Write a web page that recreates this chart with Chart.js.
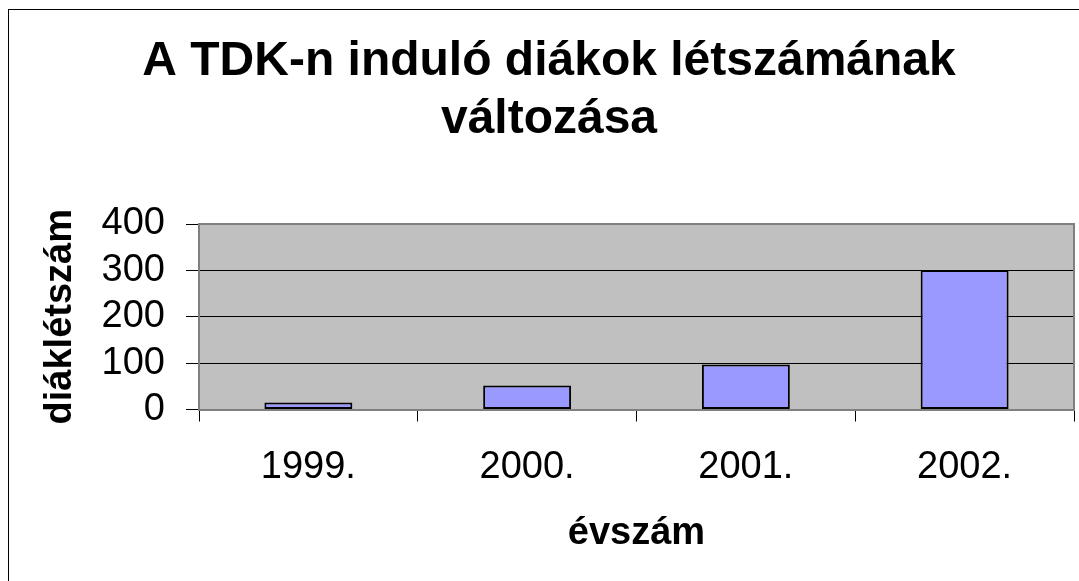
<!DOCTYPE html>
<html>
<head>
<meta charset="utf-8">
<script src="https://cdn.jsdelivr.net/npm/chart.js@4.4.1/dist/chart.umd.min.js"></script>
<style>
  html, body { margin: 0; padding: 0; background: #ffffff; overflow: hidden; }
  #wrap { width: 1079px; height: 581px; position: relative; }
</style>
</head>
<body>
<div id="wrap"><canvas id="c" width="1079" height="581"></canvas></div>
<script>
const categories = ['1999.', '2000.', '2001.', '2002.'];
const studentCounts = [15, 52, 97, 301];
const yTicks = [0, 100, 200, 300, 400];
const titleLines = ['A TDK-n induló diákok létszámának', 'változása'];
const xTitle = 'évszám';
const yTitle = 'diáklétszám';

const FONT = "'Liberation Sans', Arial, Helvetica, sans-serif";

const framePlugin = {
  id: 'frame',
  beforeDraw(chart) {
    const ctx = chart.ctx;
    const a = chart.chartArea;
    ctx.save();
    ctx.fillStyle = '#ffffff';
    ctx.fillRect(0, 0, chart.width, chart.height);
    ctx.strokeStyle = '#000000';
    ctx.lineWidth = 1;
    ctx.strokeRect(8.5, 9.5, chart.width + 20, chart.height + 20);
    ctx.fillStyle = '#c0c0c0';
    ctx.fillRect(a.left, a.top, a.right - a.left, a.bottom - a.top);
    ctx.restore();
  },
  afterDatasetsDraw(chart) {
    const ctx = chart.ctx;
    const a = chart.chartArea;
    ctx.save();
    ctx.strokeStyle = '#808080';
    ctx.lineWidth = 2;
    ctx.beginPath();
    ctx.moveTo(a.left, a.top);
    ctx.lineTo(a.right, a.top);
    ctx.lineTo(a.right, a.bottom);
    ctx.stroke();
    ctx.restore();
  }
};

new Chart(document.getElementById('c'), {
  type: 'bar',
  data: {
    labels: categories,
    datasets: [{
      data: studentCounts,
      backgroundColor: '#9999ff',
      borderColor: '#000000',
      borderWidth: 2,
      borderSkipped: false,
      barPercentage: 0.402,
      categoryPercentage: 1.0
    }]
  },
  options: {
    responsive: false,
    animation: false,
    devicePixelRatio: 1,
    layout: { padding: { left: 24, right: 5, top: 0, bottom: 0 } },
    plugins: {
      legend: { display: false },
      tooltip: { enabled: false },
      title: {
        display: true,
        text: titleLines,
        color: '#000000',
        font: { family: FONT, size: 48, weight: 'bold', lineHeight: 1.2 },
        padding: { top: 33, bottom: 75.8 }
      }
    },
    scales: {
      x: {
        offset: true,
        grid: {
          offset: true,
          drawOnChartArea: false,
          drawTicks: true,
          tickLength: 12,
          color: '#000000',
          lineWidth: 1
        },
        border: { display: true, color: '#808080', width: 2 },
        ticks: {
          color: '#000000',
          font: { family: FONT, size: 38 },
          padding: 23.5,
          maxRotation: 0,
          autoSkip: false
        },
        title: {
          display: true,
          text: xTitle,
          color: '#000000',
          font: { family: FONT, size: 38, weight: 'bold', lineHeight: 1.2 },
          padding: { top: 0, bottom: 24.4 }
        },
        afterFit(scale) { scale.height = 171.5; }
      },
      y: {
        min: 0,
        max: 400,
        afterBuildTicks(scale) { scale.ticks = yTicks.map(v => ({ value: v })); },
        grid: {
          color: (c) => (c.tick && (c.tick.value === 400 || c.tick.value === 0)) ? '#808080' : '#000000',
          tickColor: '#000000',
          lineWidth: 1,
          drawTicks: true,
          tickLength: 13
        },
        border: { display: true, color: '#808080', width: 2 },
        ticks: {
          color: '#000000',
          font: { family: FONT, size: 38 },
          padding: 21,
          autoSkip: false
        },
        title: {
          display: true,
          text: yTitle,
          color: '#000000',
          font: { family: FONT, size: 38, weight: 'bold', lineHeight: 1.2 },
          padding: { top: 14, bottom: 0 }
        },
        afterFit(scale) { scale.width = 175; }
      }
    }
  },
  plugins: [framePlugin]
});
</script>
</body>
</html>
